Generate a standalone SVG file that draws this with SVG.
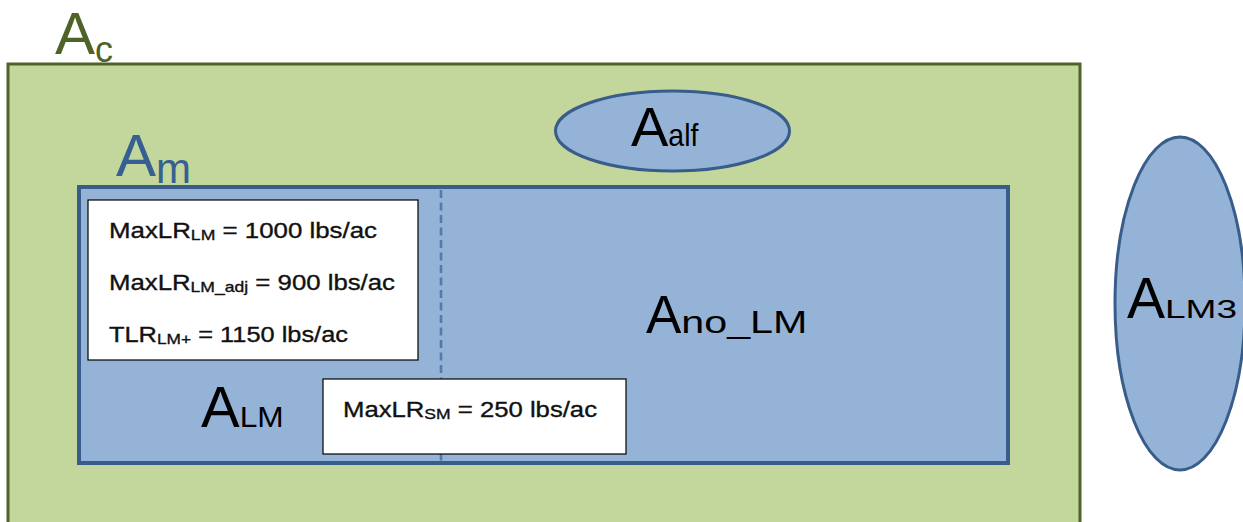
<svg xmlns="http://www.w3.org/2000/svg" width="1243" height="522" viewBox="0 0 1243 522">
<style>
.lbl{font-family:"Liberation Sans",Arial,sans-serif;fill:#000}
.box{fill:#fff;stroke:#000;stroke-width:1.2}
.val{font-family:"Liberation Sans",Arial,sans-serif;font-size:22px;fill:#111;stroke:#111;stroke-width:0.35}
.blue{fill:#95b3d7;stroke:#385d8a}
</style>
<rect width="1243" height="522" fill="#fff"/>
<g id="Ac">
<rect x="8" y="64" width="1072" height="480" fill="#c3d69b" stroke="#4f6228" stroke-width="3"/>
<text class="lbl" style="fill:#4f6228" x="55" y="54" font-size="60">A<tspan font-size="36" dy="8">c</tspan></text>
</g>
<g id="Aalf">
<ellipse class="blue" cx="672.5" cy="131" rx="117" ry="40" stroke-width="3"/>
<text class="lbl" x="631" y="146" font-size="56">A<tspan font-size="32" textLength="30" lengthAdjust="spacingAndGlyphs">alf</tspan></text>
</g>
<g id="Am">
<rect class="blue" x="79" y="187" width="929" height="276" stroke-width="4"/>
<text class="lbl" style="fill:#376092" x="116" y="176" font-size="60">A<tspan font-size="42" dy="7">m</tspan></text>
</g>
<g id="connectors">
<line x1="441" y1="190" x2="441" y2="461" stroke="#5479ad" stroke-width="2.6" stroke-dasharray="8 4.5"/>
</g>
<g id="ALM">
<rect class="box" x="88" y="200" width="330" height="160"/>
<text class="val" x="109" y="238" textLength="268" lengthAdjust="spacingAndGlyphs">MaxLR<tspan font-size="15" dy="2">LM</tspan><tspan dy="-2"> = 1000 lbs/ac</tspan></text>
<text class="val" x="109" y="290" textLength="286" lengthAdjust="spacingAndGlyphs">MaxLR<tspan font-size="15" dy="2">LM_adj</tspan><tspan dy="-2"> = 900 lbs/ac</tspan></text>
<text class="val" x="109" y="342" textLength="239" lengthAdjust="spacingAndGlyphs">TLR<tspan font-size="15" dy="2">LM+</tspan><tspan dy="-2"> = 1150 lbs/ac</tspan></text>
<text class="lbl" x="201" y="427" font-size="58">A<tspan font-size="30" textLength="44" lengthAdjust="spacingAndGlyphs">LM</tspan></text>
</g>
<g id="ASM">
<rect class="box" x="323" y="379" width="303" height="75"/>
<text class="val" x="343" y="417" textLength="254" lengthAdjust="spacingAndGlyphs">MaxLR<tspan font-size="15" dy="2">SM</tspan><tspan dy="-2"> = 250 lbs/ac</tspan></text>
</g>
<g id="AnoLM">
<text class="lbl" x="646" y="333" font-size="53">A<tspan font-size="31" textLength="126" lengthAdjust="spacingAndGlyphs">no_LM</tspan></text>
</g>
<g id="ALM3">
<ellipse class="blue" cx="1180" cy="303.5" rx="65" ry="166.5" stroke-width="3"/>
<text class="lbl" x="1127" y="318" font-size="57">A<tspan font-size="26" textLength="72" lengthAdjust="spacingAndGlyphs">LM3</tspan></text>
</g>
</svg>
